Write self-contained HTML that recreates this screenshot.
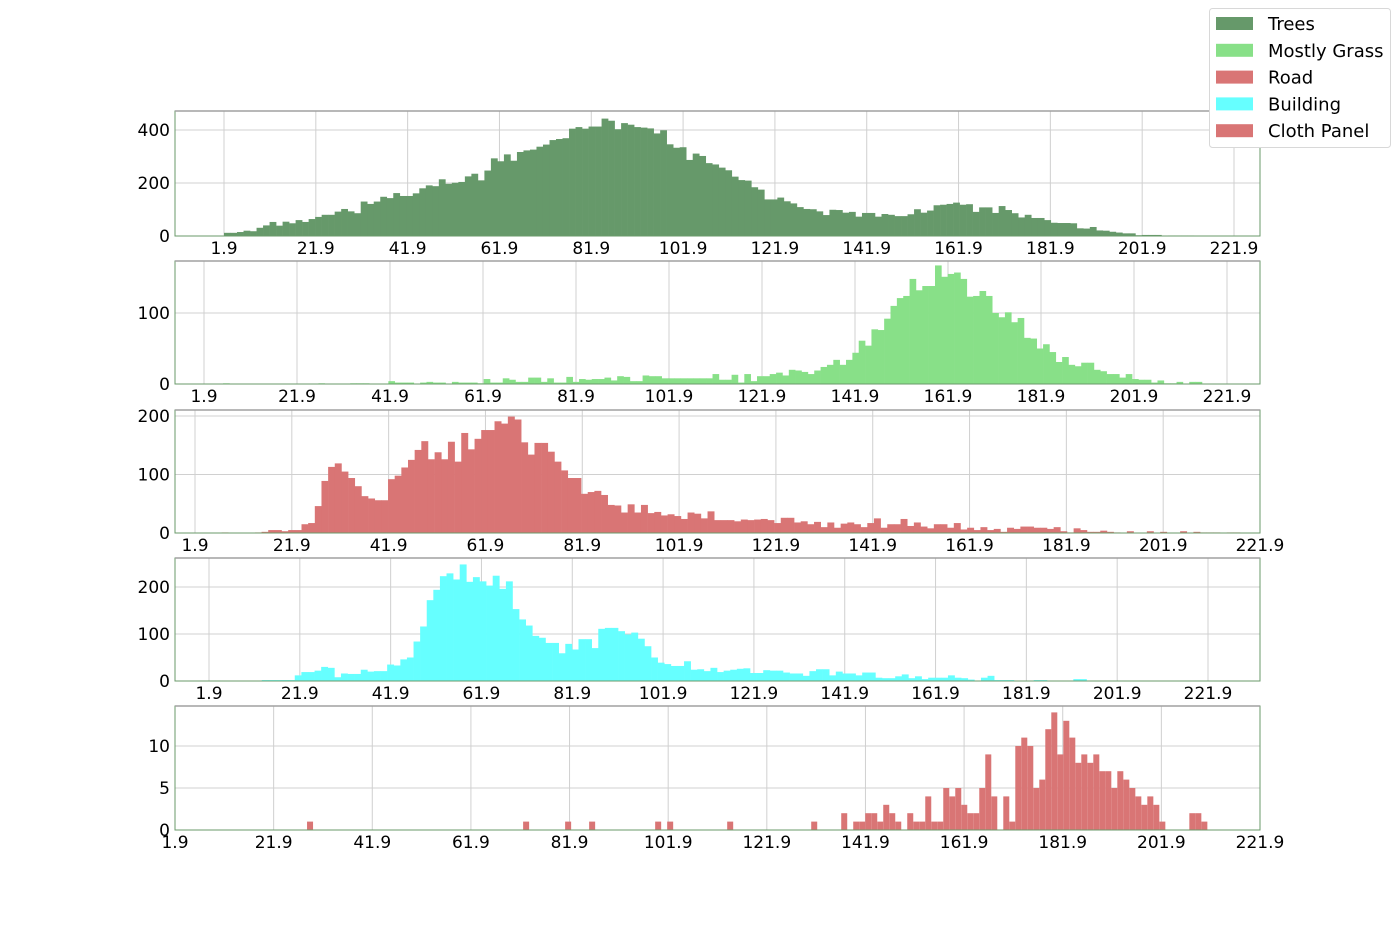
<!DOCTYPE html>
<html><head><meta charset="utf-8"><style>
html,body{margin:0;padding:0;background:#fff;}
svg{display:block;font-family:"DejaVu Sans","Liberation Sans",sans-serif;}
</style></head><body>
<svg id="chart" width="1400" height="933" viewBox="0 0 1400 933" xmlns="http://www.w3.org/2000/svg"></svg>
<script>
const xTickValues = [1.9,21.9,41.9,61.9,81.9,101.9,121.9,141.9,161.9,181.9,201.9,221.9];
const seriesNames = ["Trees","Mostly Grass","Road","Building","Cloth Panel"];
const treesStart = 1.9, treesBinWidth = 1.418;
const treesCounts = [12,12,15,20,18,31,40,53,39,54,48,60,53,64,72,80,80,92,102,93,86,130,121,130,148,143,162,151,151,161,180,191,188,214,197,201,204,225,235,210,247,293,282,308,284,317,323,326,337,345,362,366,369,405,411,405,413,413,443,435,403,426,420,411,409,406,387,399,346,333,335,287,311,302,275,270,258,248,224,211,209,184,175,138,138,145,131,123,109,102,101,93,79,99,98,88,91,73,87,87,73,83,80,75,75,82,101,88,96,116,118,121,126,118,120,91,108,108,87,113,98,86,70,80,68,68,60,50,49,49,48,29,28,34,21,20,16,13,10,10,3,4,4,4,1,2,2,2,2,1,1];
const grassStart = 1.9, grassBinWidth = 1.367;
const grassCounts = [0,0,0,1,0,0,0.5,0,0,0,0,0,0,0.5,0,0,0,0,1,0,0,0,0,1,1,1,0.5,0.5,0.5,4,2,2,2,0.5,2,3,2,2,0.5,3,2,2,2,1,7,2,2,8,6,3,3,9,9,3,8,2,2,10,3,7,6,7,7,9,5,11,10,4,4,12,11,11,8,8,8,8,8,8,8,8,14,6,6,13,2,14,4,11,11,14,16,12,20,19,17,14,19,24,27,34,27,34,44,61,54,77,76,92,110,121,124,148,132,138,138,167,151,155,157,148,123,124,131,124,100,94,101,87,93,65,64,50,56,45,31,38,27,25,30,30,20,18,14,14,9,14,7,6,6,2,5,1,1,3,0.5,3,3,0.5];
const roadStart = 1.9, roadBinWidth = 1.375;
const roadCounts = [0,0,0,0,1,0.5,0.5,0.5,0,1,2,5,5,3,5,5,15,17,46,89,113,119,105,94,80,63,59,56,56,92,98,112,125,142,157,126,138,126,156,122,171,143,161,176,176,191,187,199,194,155,134,154,154,139,122,107,94,94,67,70,72,65,48,47,35,49,35,48,34,36,30,32,29,24,35,33,25,37,22,22,22,20,23,22,23,24,22,17,26,26,18,20,15,19,10,18,9,16,18,15,10,17,25,9,15,15,24,12,18,11,8,15,15,9,17,6,9,5,10,5,7,2,9,7,11,11,9,9,7,10,3,1,8,5,2,2,4,2,1,0.5,3,0.5,0.5,3,0.5,2,0.5,0.5,3,0.5,2,1,1,1,0,1,1];
const buildingStart = 1.9, buildingBinWidth = 1.453;
const buildingCounts = [0,0,0,0,0,0,1,1,2,2,2,2,2,12,19,19,22,30,28,8,16,15,15,24,20,21,21,35,33,46,50,84,116,172,194,223,229,216,248,211,221,212,203,224,196,212,153,131,118,96,92,81,81,59,79,67,89,89,70,111,113,113,106,99,103,90,74,50,39,36,32,32,42,24,25,21,28,19,22,24,26,27,17,17,23,22,22,18,16,16,11,21,25,25,12,20,16,16,12,18,18,7,6,6,10,14,6,10,4,7,7,7,12,7,6,3,1,7,11,2,2,2,0,0,0,2,2,0.5,0.5,0.5,0.5,4,4,1,0.5,0.5,0,0.5,0,0.5,0,0,0.5,0,0.5];
const clothStart = 1.9, clothBinWidth = 1.217;
const clothBinIndex = [22,58,65,69,80,82,92,106,111,113,114,115,116,117,118,119,120,122,123,124,125,126,127,128,129,130,131,132,133,134,135,136,138,139,140,141,142,143,144,145,146,147,148,149,150,151,152,153,154,155,156,157,158,159,160,161,162,163,164,169,170,171];
const clothCounts = [1,1,1,1,1,1,1,1,2,1,1,2,2,1,3,2,1,2,1,1,4,1,1,5,4,5,3,2,2,5,9,4,4,1,10,11,10,5,6,12,14,9,13,11,8,9,8,9,7,7,5,7,6,5,4,3,4,3,1,2,2,1];

const svg = document.getElementById('chart');
const NS = 'http://www.w3.org/2000/svg';
function mk(tag, attrs, parent){const e=document.createElementNS(NS,tag);for(const k in attrs)e.setAttribute(k,attrs[k]);(parent||svg).appendChild(e);return e;}

const panels = [
 {key:'trees', top:111, bottom:236, xa:224, xb:1234, yScale:106/400, yticks:[0,200,400], color:'#66996a', start:treesStart, bw:treesBinWidth, counts:treesCounts},
 {key:'grass', top:261, bottom:384, xa:204, xb:1227, yScale:0.71, yticks:[0,100], color:'#88e088', start:grassStart, bw:grassBinWidth, counts:grassCounts},
 {key:'road', top:410, bottom:533, xa:195, xb:1260, yScale:0.585, yticks:[0,100,200], color:'#d97575', start:roadStart, bw:roadBinWidth, counts:roadCounts},
 {key:'building', top:558, bottom:681, xa:209, xb:1208, yScale:0.47, yticks:[0,100,200], color:'#66ffff', start:buildingStart, bw:buildingBinWidth, counts:buildingCounts},
 {key:'cloth', top:706, bottom:830, xa:175, xb:1260, yScale:8.4, yticks:[0,5,10], color:'#d97575', start:clothStart, bw:clothBinWidth, counts:null}
];
const L=175, R=1260;
panels.forEach(p=>{
  const g = mk('g',{});
  
  
  const xs = v => p.xa + (v-1.9)*(p.xb-p.xa)/220;
  const ys = v => p.bottom - v*p.yScale;
  xTickValues.forEach(t=>{ const x=xs(t); if(x>=L&&x<=R) mk('line',{x1:x,x2:x,y1:p.top,y2:p.bottom,stroke:'#d0d0d0','stroke-width':1},g); });
  p.yticks.forEach(t=>{ const y=ys(t); mk('line',{x1:L,x2:R,y1:y,y2:y,stroke:'#d0d0d0','stroke-width':1},g); });
  const bw = p.bw*(p.xb-p.xa)/220;
  if(p.counts){
    p.counts.forEach((c,i)=>{ if(c<=0) return;
      const x = xs(p.start + i*p.bw);
      const r = mk('rect',{x:x,y:ys(c),width:bw+0.3,height:c*p.yScale,fill:p.color},g);
      
      
    });
  } else {
    clothBinIndex.forEach((b,i)=>{
      const c = clothCounts[i];
      const x = xs(p.start + b*p.bw);
      const r = mk('rect',{x:x,y:ys(c),width:bw,height:c*p.yScale,fill:p.color},g);
      
      
    });
  }
  mk('rect',{x:L,y:p.top,width:R-L,height:p.bottom-p.top,fill:'none',stroke:'#6a9a6a','stroke-width':1},g);
  mk('line',{x1:L,x2:R,y1:p.top,y2:p.top,stroke:'#a0a0a0','stroke-width':1.5},g);
  xTickValues.forEach(t=>{ const x=xs(t); if(x<L-1||x>R+1) return;
    const tx = mk('text',{x:x,y:p.bottom+18,'font-size':17,'text-anchor':'middle',fill:'#000'},g);
    tx.textContent = t.toFixed(1);
    
    
  });
  p.yticks.forEach(t=>{
    const ty = mk('text',{x:170,y:ys(t)+6,'font-size':17,'text-anchor':'end',fill:'#000'},g);
    ty.textContent = String(t);
    
    
  });
});
const lg = mk('g',{});


mk('rect',{x:1209.5,y:8.5,width:181,height:139,rx:3,fill:'#fff',stroke:'#d8d8d8'},lg);
const legendColors = ['#66996a','#88e088','#d97575','#66ffff','#d97575'];
seriesNames.forEach((n,i)=>{
  const y = 24 + i*26.8;
  const e = mk('g',{},lg);
  
  
  mk('rect',{x:1216,y:y-7,width:37,height:13,fill:legendColors[i]},e);
  const t = mk('text',{x:1268,y:y+6,'font-size':18,fill:'#000'},e);
  t.textContent = n;
});
</script>
</body></html>
